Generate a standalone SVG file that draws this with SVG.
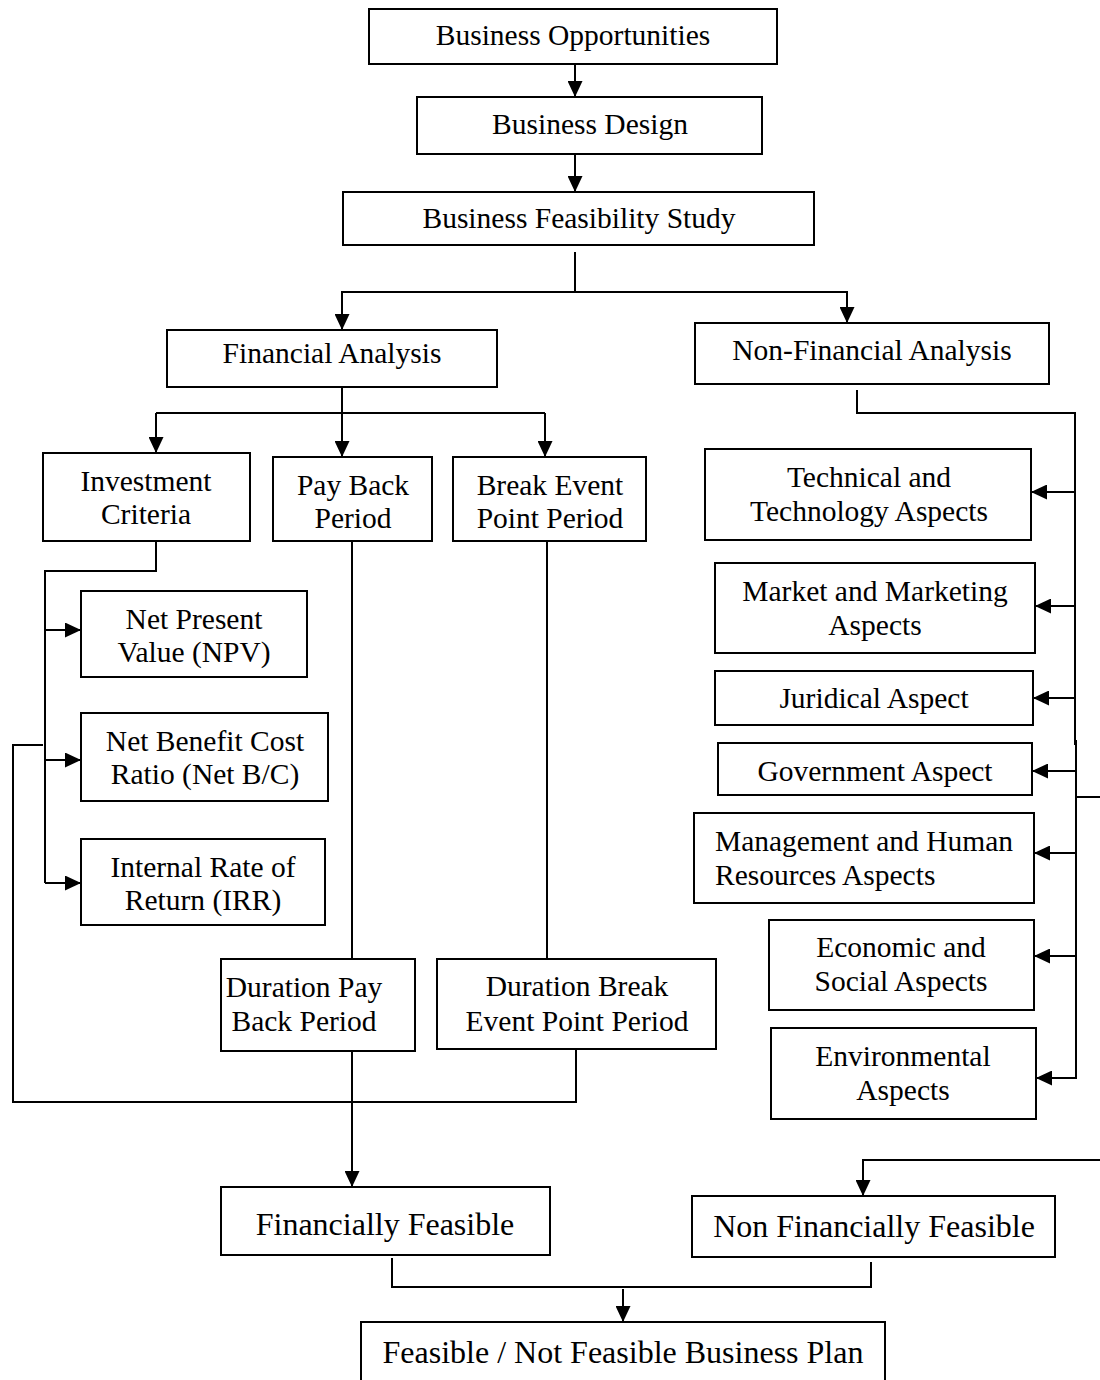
<svg xmlns="http://www.w3.org/2000/svg" width="1100" height="1380" viewBox="0 0 1100 1380">
<style>
.box{fill:#fff;stroke:#000;stroke-width:2}
.t{font-family:"Liberation Serif","Times New Roman",serif;font-size:29.5px;fill:#000;text-anchor:middle}
.big{font-size:32px}
.c{fill:none;stroke:#000;stroke-width:2}
.a{fill:none;stroke:#000;stroke-width:2;marker-end:url(#arr)}
</style>
<defs>
<marker id="arr" markerUnits="userSpaceOnUse" markerWidth="16" markerHeight="15" refX="16" refY="7.5" orient="auto">
<path d="M0,0 L16,7.5 L0,15 z" fill="#000"/>
</marker>
</defs>
<rect width="1100" height="1380" fill="#fff"/>
<g id="connectors">
<path class="a" d="M575,64 V97"/>
<path class="a" d="M575,154 V192"/>
<path class="c" d="M575,252 V292"/>
<path class="c" d="M342,292 H847"/>
<path class="a" d="M342,291 V330"/>
<path class="a" d="M847,291 V323"/>
<path class="c" d="M342,387 V413"/>
<path class="c" d="M156,413 H545"/>
<path class="a" d="M156,413 V453"/>
<path class="a" d="M342,413 V457"/>
<path class="a" d="M545,413 V457"/>
<path class="c" d="M156,541 V571 H45 V883"/>
<path class="a" d="M45,630 H81"/>
<path class="a" d="M45,760 H81"/>
<path class="a" d="M45,883 H81"/>
<path class="c" d="M43,745 H13 V1102 H576 V1050"/>
<path class="c" d="M352,541 V959"/>
<path class="c" d="M547,541 V959"/>
<path class="a" d="M352,1051 V1187"/>
<path class="c" d="M857,390 V413 H1075 V745"/>
<path class="a" d="M1075,492 H1031"/>
<path class="a" d="M1075,606 H1035"/>
<path class="a" d="M1075,698 H1033"/>
<path class="a" d="M1075,771 H1032"/>
<path class="c" d="M1076,740 V1078"/>
<path class="c" d="M1076,797 H1100"/>
<path class="a" d="M1075,853 H1034"/>
<path class="a" d="M1075,956 H1034"/>
<path class="a" d="M1077,1078 H1036"/>
<path class="c" d="M1100,1160 H863"/>
<path class="a" d="M863,1159 V1196"/>
<path class="c" d="M392,1258 V1287 H871 V1262"/>
<path class="a" d="M623,1289 V1322"/>
</g>
<g id="n1"><rect class="box" x="369" y="9" width="408" height="55"/><text class="t" x="573" y="45">Business Opportunities</text></g>
<g id="n2"><rect class="box" x="417" y="97" width="345" height="57"/><text class="t" x="590" y="134">Business Design</text></g>
<g id="n3"><rect class="box" x="343" y="192" width="471" height="53"/><text class="t" x="579" y="228">Business Feasibility Study</text></g>
<g id="n4"><rect class="box" x="167" y="330" width="330" height="57"/><text class="t" x="332" y="363">Financial Analysis</text></g>
<g id="n5"><rect class="box" x="695" y="323" width="354" height="61"/><text class="t" x="872" y="360">Non-Financial Analysis</text></g>
<g id="n6"><rect class="box" x="43" y="453" width="207" height="88"/><text class="t" x="146" y="491">Investment</text><text class="t" x="146" y="524">Criteria</text></g>
<g id="n7"><rect class="box" x="273" y="457" width="159" height="84"/><text class="t" x="353" y="495">Pay Back</text><text class="t" x="353" y="528">Period</text></g>
<g id="n8"><rect class="box" x="453" y="457" width="193" height="84"/><text class="t" x="550" y="495">Break Event</text><text class="t" x="550" y="528">Point Period</text></g>
<g id="n9"><rect class="box" x="81" y="591" width="226" height="86"/><text class="t" x="194" y="629">Net Present</text><text class="t" x="194" y="662">Value (NPV)</text></g>
<g id="n10"><rect class="box" x="81" y="713" width="247" height="88"/><text class="t" x="205" y="751">Net Benefit Cost</text><text class="t" x="205" y="784">Ratio (Net B/C)</text></g>
<g id="n11"><rect class="box" x="81" y="839" width="244" height="86"/><text class="t" x="203" y="877">Internal Rate of</text><text class="t" x="203" y="910">Return (IRR)</text></g>
<g id="n12"><rect class="box" x="221" y="959" width="194" height="92"/><text class="t" x="304" y="997">Duration Pay</text><text class="t" x="304" y="1031">Back Period</text></g>
<g id="n13"><rect class="box" x="437" y="959" width="279" height="90"/><text class="t" x="577" y="996">Duration Break</text><text class="t" x="577" y="1031">Event Point Period</text></g>
<g id="n14"><rect class="box" x="705" y="449" width="326" height="91"/><text class="t" x="869" y="487">Technical and</text><text class="t" x="869" y="521">Technology Aspects</text></g>
<g id="n15"><rect class="box" x="715" y="563" width="320" height="90"/><text class="t" x="875" y="601">Market and Marketing</text><text class="t" x="875" y="635">Aspects</text></g>
<g id="n16"><rect class="box" x="715" y="671" width="318" height="54"/><text class="t" x="874" y="708">Juridical Aspect</text></g>
<g id="n17"><rect class="box" x="718" y="743" width="314" height="52"/><text class="t" x="875" y="781">Government Aspect</text></g>
<g id="n18"><rect class="box" x="694" y="813" width="340" height="90"/><text class="t" x="864" y="851">Management and Human</text><text class="t" x="715" y="885" style="text-anchor:start">Resources Aspects</text></g>
<g id="n19"><rect class="box" x="769" y="920" width="265" height="90"/><text class="t" x="901" y="957">Economic and</text><text class="t" x="901" y="991">Social Aspects</text></g>
<g id="n20"><rect class="box" x="771" y="1028" width="265" height="91"/><text class="t" x="903" y="1066">Environmental</text><text class="t" x="903" y="1100">Aspects</text></g>
<g id="n21"><rect class="box" x="221" y="1187" width="329" height="68"/><text class="t big" x="385" y="1235">Financially Feasible</text></g>
<g id="n22"><rect class="box" x="692" y="1196" width="363" height="61"/><text class="t big" x="874" y="1237">Non Financially Feasible</text></g>
<g id="n23"><rect class="box" x="361" y="1322" width="524" height="70"/><text class="t big" x="623" y="1363">Feasible / Not Feasible Business Plan</text></g>
</svg>
